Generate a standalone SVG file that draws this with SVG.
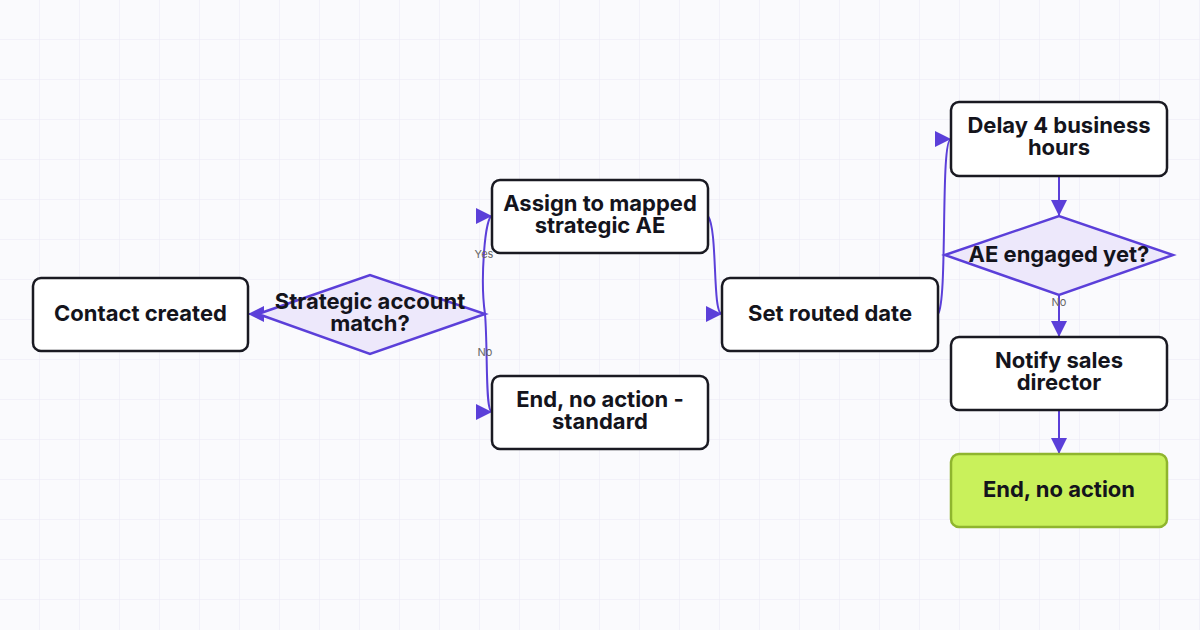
<svg xmlns="http://www.w3.org/2000/svg" width="1200" height="630" viewBox="0 0 1200 630">
<defs>
<pattern id="grid" width="40" height="40" patternUnits="userSpaceOnUse"><path d="M40 0V40M0 40H40" fill="none" stroke="#ebe8f5" stroke-width="1"/></pattern>
<marker id="ah" markerWidth="16" markerHeight="16" refX="16" refY="8" orient="auto" markerUnits="userSpaceOnUse"><path d="M0 0L16 8L0 16Z" fill="#5b3fd9"/></marker>
<style>
.box{fill:#fff;stroke:#1a1a22;stroke-width:2.5}
.dia{fill:#ede8fb;stroke:#5b3fd9;stroke-width:2.5}
.t{font-family:Inter,"Liberation Sans",sans-serif;font-weight:700;font-size:22px;fill:#14141c;text-anchor:middle}
.e{fill:none;stroke:#5b3fd9;stroke-width:2}
.l{font-family:Inter,"Liberation Sans",sans-serif;font-size:11px;fill:#666;text-anchor:middle}
</style>
</defs>
<rect width="1200" height="630" fill="#fafafd"/>
<rect width="1200" height="630" fill="url(#grid)"/>
<g id="connectors">
<path class="e" d="M262 314L248 314" marker-end="url(#ah)"/>
<path class="e" d="M485 314C480 280 485 216 492 216" marker-end="url(#ah)"/>
<path class="e" d="M485 314C488 350 485 412 492 412" marker-end="url(#ah)"/>
<path class="e" d="M708 216C718 230 712 314 722 314" marker-end="url(#ah)"/>
<path class="e" d="M938 314C948 300 940 139 951 139" marker-end="url(#ah)"/>
<path class="e" d="M1059 176V216" marker-end="url(#ah)"/>
<path class="e" d="M1059 295V337" marker-end="url(#ah)"/>
<path class="e" d="M1059 410V454" marker-end="url(#ah)"/>
<text class="l" x="484" y="258">Yes</text>
<text class="l" x="485" y="356">No</text>
<text class="l" x="1059" y="306">No</text>
</g>
<g id="n1"><rect class="box" x="33" y="278" width="215" height="73" rx="8"/><text class="t" x="140.5" y="321">Contact created</text></g>
<g id="n2"><polygon class="dia" points="258,314 370,275 485,314 370,354"/><text class="t" x="370" y="309">Strategic account</text><text class="t" x="370" y="331">match?</text></g>
<g id="n3"><rect class="box" x="492" y="180" width="216" height="73" rx="8"/><text class="t" x="600" y="211">Assign to mapped</text><text class="t" x="600" y="233">strategic AE</text></g>
<g id="n4"><rect class="box" x="492" y="376" width="216" height="73" rx="8"/><text class="t" x="600" y="407">End, no action -</text><text class="t" x="600" y="429">standard</text></g>
<g id="n5"><rect class="box" x="722" y="278" width="216" height="73" rx="8"/><text class="t" x="830" y="321">Set routed date</text></g>
<g id="n6"><rect class="box" x="951" y="102" width="216" height="74" rx="8"/><text class="t" x="1059" y="133">Delay 4 business</text><text class="t" x="1059" y="155">hours</text></g>
<g id="n7"><polygon class="dia" points="945,255 1059,216 1173,255 1059,295"/><text class="t" x="1059" y="262">AE engaged yet?</text></g>
<g id="n8"><rect class="box" x="951" y="337" width="216" height="73" rx="8"/><text class="t" x="1059" y="368">Notify sales</text><text class="t" x="1059" y="390">director</text></g>
<g id="n9"><rect x="951" y="454" width="216" height="73" rx="8" fill="#c9f15b" stroke="#8fb52e" stroke-width="2.5"/><text class="t" x="1059" y="497">End, no action</text></g>
</svg>
